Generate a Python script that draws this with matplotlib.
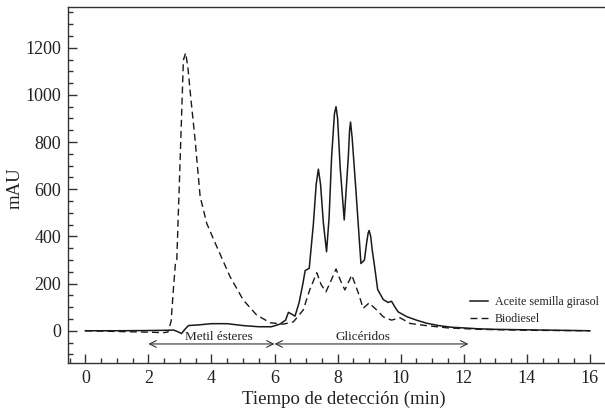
import matplotlib
matplotlib.use("Agg")
import matplotlib.pyplot as plt
from matplotlib.ticker import MultipleLocator

plt.rcParams['font.family'] = ['Liberation Serif', 'DejaVu Serif']

# Aceite semilla girasol (solid)
aceite_t = [0.0, 1.0, 2.0, 2.6, 2.8, 2.95, 3.05, 3.15, 3.27, 3.6, 4.0, 4.5, 5.0, 5.5, 5.9,
            6.17, 6.35, 6.44, 6.55, 6.65, 6.78, 6.9, 6.97, 7.1, 7.23, 7.32, 7.39, 7.46,
            7.55, 7.65, 7.73, 7.81, 7.9, 7.95, 8.0, 8.08, 8.21, 8.34, 8.38, 8.41, 8.46,
            8.58, 8.74, 8.85, 8.92, 8.97, 9.0, 9.05, 9.1, 9.16, 9.27, 9.45, 9.6, 9.71,
            9.82, 9.92, 10.19, 10.5, 10.82, 11.2, 11.6, 12.0, 12.5, 13.0, 14.0, 15.0, 16.0]
aceite_v = [0, 0, 1, 2, 3, -5, -12, 5, 22, 25, 30, 30, 22, 17, 17,
            28, 45, 78, 70, 62, 120, 200, 255, 265, 450, 620, 685, 620,
            455, 335, 480, 738, 920, 950, 900, 695, 470, 738, 850, 885, 820,
            597, 285, 300, 372, 415, 425, 400, 340, 285, 175, 132, 120, 125,
            100, 80, 60, 45, 32, 22, 15, 12, 8, 6, 4, 2, 0]

# Biodiesel (dashed)
bio_t = [0.0, 1.0, 2.0, 2.5, 2.62, 2.72, 2.8, 2.86, 2.9, 3.0, 3.11, 3.18, 3.25, 3.32, 3.48,
         3.64, 3.85, 4.17, 4.59, 5.01, 5.43, 5.86, 6.28, 6.6, 6.91, 7.12, 7.34, 7.48,
         7.63, 7.8, 7.95, 8.1, 8.23, 8.45, 8.66, 8.81, 9.0, 9.24, 9.45, 9.71, 9.98,
         10.3, 10.8, 11.5, 12.5, 14.0, 16.0]
bio_v = [0, -3, -6, -8, -5, 40, 190, 290, 300, 700, 1148, 1178, 1120, 1020, 810,
         570, 455, 356, 229, 130, 67, 34, 28, 38, 88, 175, 246, 195,
         165, 215, 262, 210, 173, 236, 159, 95, 118, 88, 59, 45, 55,
         31, 22, 12, 6, 2, 0]

x_ticks = [0, 2, 4, 6, 8, 10, 12, 14, 16]
y_ticks = [0, 200, 400, 600, 800, 1000, 1200]

fig = plt.figure(figsize=(6.05, 4.13), dpi=100)
ax = fig.add_axes([68/605, 49.7/413, 537/605, 356.6/413])

ink = '#1a1a1a'
ax.plot(aceite_t, aceite_v, color=ink, lw=1.1, label='Aceite semilla girasol')
ax.plot(bio_t, bio_v, color=ink, lw=1.0, linestyle=(0, (5, 3)), label='Biodiesel')

ax.set_xlim(-0.55, 16.48)
ax.set_ylim(-138, 1374)
ax.set_xticks(x_ticks)
ax.set_yticks(y_ticks)
ax.xaxis.set_minor_locator(MultipleLocator(0.5))
ax.yaxis.set_minor_locator(MultipleLocator(50))
ax.tick_params(which='both', direction='in', top=False, right=False,
               colors='#333333', width=1.0, labelsize=13, labelcolor='#222222')
ax.tick_params(which='major', length=6.5, pad=5)
ax.tick_params(which='minor', length=3.3)
for s in ['left', 'bottom', 'top']:
    ax.spines[s].set_color('#333333')
    ax.spines[s].set_linewidth(1.0)
ax.spines['right'].set_visible(False)

ax.set_xlabel('Tiempo de detección (min)', fontsize=13.5, color='#222222')
ax.set_ylabel('mAU', fontsize=13.5, color='#222222')
ax.xaxis.set_label_coords(0.514, -0.078)
ax.yaxis.set_label_coords(-0.082, 0.49)

arrow_kw = dict(arrowstyle='<->', color='#333333', lw=0.8, shrinkA=0, shrinkB=0,
                mutation_scale=12)
ax.annotate('', xy=(2.0, -56), xytext=(6.0, -56), arrowprops=arrow_kw)
ax.annotate('', xy=(6.0, -56), xytext=(12.15, -56), arrowprops=arrow_kw)
ax.text(4.25, -50, 'Metil ésteres', ha='center', va='bottom', fontsize=9.5, color='#222222')
ax.text(8.8, -50, 'Glicéridos', ha='center', va='bottom', fontsize=9.5, color='#222222')

leg = ax.legend(loc='center left', bbox_to_anchor=(0.748, 0.148), frameon=False,
                fontsize=8.6, borderpad=0, borderaxespad=0, handlelength=1.5,
                handletextpad=0.62, labelspacing=0.45)
for t in leg.get_texts():
    t.set_color('#222222')

fig.savefig('out.png', dpi=100)
